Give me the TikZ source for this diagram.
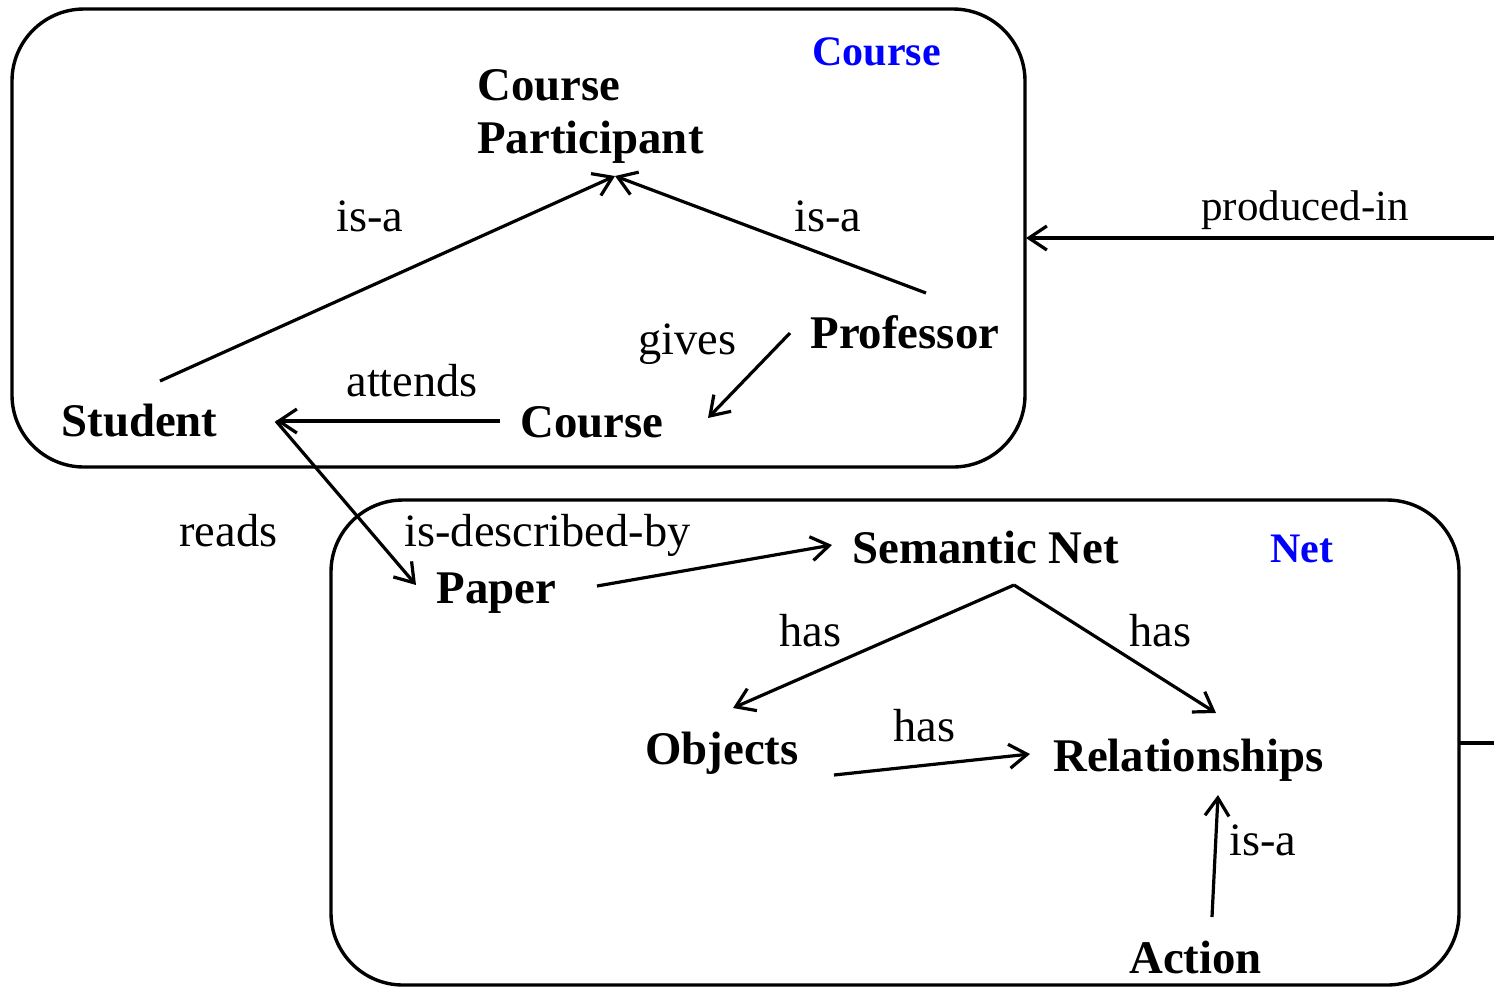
\documentclass[tikz,border=0pt]{standalone}
\usepackage{fontspec}
\setmainfont{Liberation Serif}
\usetikzlibrary{arrows.meta}
\begin{document}
\begin{tikzpicture}[x=0.5pt,y=-0.5pt,
  frame/.style={draw, line width=1.7pt, rounded corners=36pt},
  concept/.style={font=\fontsize{23.4}{26.5}\selectfont\bfseries, inner sep=0pt, anchor=base west},
  rel/.style={font=\fontsize{23.2}{26.5}\selectfont, inner sep=0pt, anchor=base west},
  smallrel/.style={font=\fontsize{21.5}{25}\selectfont, inner sep=0pt, anchor=base west},
  title/.style={font=\fontsize{21}{24}\selectfont\bfseries, text=blue, inner sep=0pt, anchor=base west},
  link/.style={line width=1.6pt, -{Straight Barb[length=9pt,width=12pt]}},
  plain/.style={line width=1.6pt},
]
\useasboundingbox (0,0) rectangle (1494,987);

% the two frames
\draw[frame] (12,9) rectangle (1025,467);
\draw[frame] (331,500) rectangle (1459,985);

% frame titles
\node[title] (courseTitle) at (812,65) {Course};
\node[title] (netTitle) at (1270,562) {Net};

% concepts of the course frame
\node[concept] (participant1) at (477,100) {Course};
\node[concept] (participant2) at (477,153) {Participant};
\node[concept] (student) at (61,436) {Student};
\node[concept] (course) at (520,437) {Course};
\node[concept] (professor) at (810,348) {Professor};

% concepts of the net frame
\node[concept] (paper) at (436,603) {Paper};
\node[concept] (semnet) at (852,563) {Semantic Net};
\node[concept] (objects) at (645,764) {Objects};
\node[concept] (relships) at (1053,771) {Relationships};
\node[concept] (action) at (1129,973) {Action};

% relation labels
\node[rel] (isaL) at (336,231) {is-a};
\node[rel] (isaR) at (794,231) {is-a};
\node[rel] (gives) at (638,354) {gives};
\node[rel] (attends) at (346,396) {attends};
\node[rel] (reads) at (179,546) {reads};
\node[rel] (described) at (404,546) {is-described-by};
\node[rel] (hasL) at (779,646) {has};
\node[rel] (hasR) at (1129,646) {has};
\node[rel] (hasM) at (893,741) {has};
\node[rel] (isaB) at (1229,855) {is-a};
\node[smallrel] (produced) at (1201,220) {produced-in};

% connector end points
\coordinate (partIn) at (615,176);
\coordinate (studentUp) at (160,381);
\coordinate (profUp) at (926,293);
\coordinate (profDown) at (790,333);
\coordinate (courseIn) at (708,418);
\coordinate (courseOut) at (500,421);
\coordinate (studentIn) at (276,421);
\coordinate (paperIn) at (416,585);
\coordinate (paperOut) at (597,586);
\coordinate (semnetIn) at (832,545);
\coordinate (semnetOut) at (1014,585);
\coordinate (objectsIn) at (733,708);
\coordinate (objectsOut) at (834,775);
\coordinate (relIn) at (1030,754);
\coordinate (relInTop) at (1216,713);
\coordinate (relInBottom) at (1218,795);
\coordinate (actionOut) at (1212,917);
\coordinate (courseFrameIn) at (1026,238);
\coordinate (rightTop) at (1494,238);
\coordinate (netFrameOut) at (1459,743);
\coordinate (rightBottom) at (1494,743);

% course relations
\draw[link] (studentUp) -- (partIn);
\draw[link] (profUp) -- (partIn);
\draw[link] (profDown) -- (courseIn);
\draw[link] (courseOut) -- (studentIn);
\draw[link] (studentIn) -- (paperIn);

% net relations
\draw[link] (paperOut) -- (semnetIn);
\draw[link] (semnetOut) -- (objectsIn);
\draw[link] (semnetOut) -- (relInTop);
\draw[link] (objectsOut) -- (relIn);
\draw[link] (actionOut) -- (relInBottom);

% link between the frames
\draw[link] (rightTop) -- (courseFrameIn);
\draw[plain] (netFrameOut) -- (rightBottom);
\end{tikzpicture}
\end{document}
